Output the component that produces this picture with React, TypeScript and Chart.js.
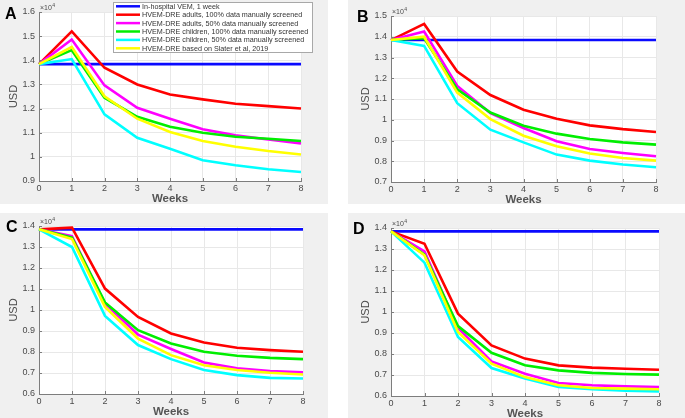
import React, { useEffect, useRef } from "react";
import { Chart, registerables } from "chart.js";
Chart.register(...registerables);

const weeks = ["0", "1", "2", "3", "4", "5", "6", "7", "8"];
const seriesNames = [
  "In-hospital VEM, 1 week",
  "HVEM-DRE adults, 100% data manually screened",
  "HVEM-DRE adults, 50% data manually screened",
  "HVEM-DRE children, 100% data manually screened",
  "HVEM-DRE children, 50% data manually screened",
  "HVEM-DRE based on Slater et al, 2019",
];
const seriesColors = ["#0a0aff", "#ff0000", "#ff00ff", "#00ee00", "#00ffff", "#ffff00"];

const inHospital = [13840, 13840, 13840, 13840, 13840, 13840, 13840, 13840, 13840];

const aAdults100 = [13840, 15200, 13690, 13000, 12580, 12380, 12200, 12100, 12000];
const aAdults50 = [13840, 14860, 12960, 12030, 11580, 11140, 10890, 10720, 10560];
const aChildren100 = [13840, 14420, 12450, 11660, 11250, 11000, 10830, 10750, 10660];
const aChildren50 = [13840, 14050, 11760, 10790, 10340, 9860, 9650, 9490, 9370];
const aSlater = [13840, 14550, 12510, 11580, 11030, 10660, 10420, 10240, 10100];

const bAdults100 = [13840, 14620, 12320, 11190, 10480, 10050, 9730, 9550, 9410];
const bAdults50 = [13840, 14250, 11630, 10320, 9600, 8960, 8590, 8400, 8240];
const bChildren100 = [13840, 13930, 11470, 10350, 9710, 9330, 9070, 8910, 8800];
const bChildren50 = [13840, 13560, 10800, 9520, 8910, 8320, 8030, 7840, 7710];
const bSlater = [13840, 14000, 11310, 10030, 9230, 8720, 8370, 8160, 8030];

const cAdults100 = [13840, 13920, 11020, 9670, 8880, 8450, 8200, 8090, 8010];
const cAdults50 = [13840, 13520, 10310, 8830, 8140, 7500, 7220, 7090, 7030];
const cChildren100 = [13840, 13450, 10360, 9040, 8410, 8010, 7820, 7720, 7660];
const cChildren50 = [13840, 13000, 9720, 8330, 7660, 7140, 6900, 6770, 6740];
const cSlater = [13840, 13380, 10150, 8640, 7850, 7370, 7140, 7010, 6930];

const dAdults100 = [13840, 13250, 9920, 8410, 7780, 7460, 7350, 7300, 7250];
const dAdults50 = [13840, 12890, 9240, 7650, 7060, 6620, 6510, 6460, 6430];
const dChildren100 = [13840, 12730, 9330, 8060, 7460, 7220, 7100, 7050, 7020];
const dChildren50 = [13840, 12350, 8810, 7330, 6830, 6430, 6320, 6250, 6220];
const dSlater = [13840, 12700, 9050, 7540, 6900, 6510, 6380, 6350, 6320];

const yRanges = [
  [9000, 16000],
  [7000, 15000],
  [6000, 14000],
  [6000, 14000],
];

const panelSeries = [
  [inHospital, aAdults100, aAdults50, aChildren100, aChildren50, aSlater],
  [inHospital, bAdults100, bAdults50, bChildren100, bChildren50, bSlater],
  [inHospital, cAdults100, cAdults50, cChildren100, cChildren50, cSlater],
  [inHospital, dAdults100, dAdults50, dChildren100, dChildren50, dSlater],
];
const panelLetters = ["A", "B", "C", "D"];

// layout (pixels)
const panels = [
  { x: 0, y: 0, w: 328, h: 204, l: 39, t: 12, r: 301, b: 181, lx: 5, ly: 19 },
  { x: 348, y: 0, w: 337, h: 204, l: 43, t: 16, r: 308, b: 182, lx: 9, ly: 22 },
  { x: 0, y: 213, w: 328, h: 205, l: 39, t: 13, r: 303, b: 181, lx: 6, ly: 19 },
  { x: 348, y: 213, w: 337, h: 205, l: 43, t: 15, r: 311, b: 183, lx: 5, ly: 21 },
];

const FONT = "'Liberation Sans', Arial, Helvetica, sans-serif";
const AXIS = "#7d7d7d";
const TEXT = "#4a4a4a";

const decorPlugin = {
  id: "decor",
  beforeDraw(chart: any) {
    const { ctx, chartArea: a, width, height } = chart;
    ctx.save();
    ctx.fillStyle = "#f0f0f0";
    ctx.fillRect(0, 0, width, height);
    ctx.fillStyle = "#ffffff";
    ctx.fillRect(a.left, a.top, a.right - a.left, a.bottom - a.top);
    ctx.restore();
  },
  afterDraw(chart: any, _args: any, opts: any) {
    const { ctx, chartArea: a } = chart;
    const xs = chart.scales.x;
    const ys = chart.scales.y;
    ctx.save();
    // inward ticks
    ctx.strokeStyle = AXIS;
    ctx.lineWidth = 1;
    ctx.beginPath();
    for (let i = 0; i < weeks.length; i++) {
      const px = Math.round(xs.getPixelForTick(i)) + 0.5;
      ctx.moveTo(px, a.bottom);
      ctx.lineTo(px, a.bottom - 3);
    }
    ys.ticks.forEach((t: any) => {
      const py = Math.round(ys.getPixelForValue(t.value)) + 0.5;
      ctx.moveTo(a.left, py);
      ctx.lineTo(a.left + 3, py);
    });
    ctx.stroke();

    // panel letter
    ctx.fillStyle = "#000";
    ctx.font = `bold 16px ${FONT}`;
    ctx.textAlign = "left";
    ctx.textBaseline = "alphabetic";
    ctx.fillText(opts.letter, opts.lx, opts.ly);

    // x10^4
    ctx.fillStyle = TEXT;
    ctx.font = `7px ${FONT}`;
    ctx.fillText("\u00d710", a.left + 1, a.top - 2);
    const w = ctx.measureText("\u00d710").width;
    ctx.font = `5px ${FONT}`;
    ctx.fillText("4", a.left + 1 + w + 0.5, a.top - 5);

    // axis titles
    ctx.font = `bold 11.5px ${FONT}`;
    ctx.fillStyle = "#555555";
    ctx.textAlign = "center";
    ctx.textBaseline = "middle";
    ctx.fillText("Weeks", (a.left + a.right) / 2, a.bottom + 18);
    ctx.save();
    ctx.translate(a.left - 25, (a.top + a.bottom) / 2);
    ctx.rotate(-Math.PI / 2);
    ctx.font = `11px ${FONT}`;
    ctx.fillStyle = TEXT;
    ctx.fillText("USD", 0, 0);
    ctx.restore();

    // legend
    if (opts.legend) {
      const bx = 113.5, by = 2.5, bw = 199, bh = 50;
      ctx.fillStyle = "#ffffff";
      ctx.fillRect(bx, by, bw, bh);
      ctx.strokeStyle = "#a8a8a8";
      ctx.lineWidth = 1;
      ctx.strokeRect(bx, by, bw, bh);
      ctx.font = `7.2px ${FONT}`;
      ctx.textAlign = "left";
      ctx.textBaseline = "middle";
      seriesNames.forEach((name, i) => {
        const ry = 6.3 + i * 8.4;
        ctx.strokeStyle = seriesColors[i];
        ctx.lineWidth = 2.5;
        ctx.beginPath();
        ctx.moveTo(116, ry);
        ctx.lineTo(140, ry);
        ctx.stroke();
        ctx.fillStyle = "#333";
        ctx.fillText(name, 142, ry + 0.5);
      });
    }
    ctx.restore();
  },
};

function Panel({ idx }: { idx: number }) {
  const ref = useRef<HTMLCanvasElement | null>(null);
  const p = panels[idx];
  useEffect(() => {
    if (!ref.current) return;
    const data = panelSeries[idx];
    const chart = new Chart(ref.current, {
      type: "line",
      data: {
        labels: weeks,
        datasets: data.map((vals, i) => ({
          label: seriesNames[i],
          data: vals,
          borderColor: seriesColors[i],
          backgroundColor: seriesColors[i],
          borderWidth: 2.6,
          pointRadius: 0,
          tension: 0,
          fill: false,
          order: data.length - i,
        })),
      },
      options: {
        responsive: false,
        animation: false,
        events: [],
        layout: { padding: { left: 0, top: p.t, right: p.w - p.r, bottom: 0 } },
        plugins: {
          legend: { display: false },
          tooltip: { enabled: false },
          decor: { letter: panelLetters[idx], lx: p.lx, ly: p.ly, legend: idx === 0 },
        } as any,
        scales: {
          x: {
            type: "category",
            offset: false,
            grid: { color: "#e8e8e8", drawTicks: false, offset: false },
            border: { display: true, color: AXIS, width: 1 },
            ticks: {
              color: TEXT,
              font: { family: FONT, size: 9 },
              padding: 2,
              maxRotation: 0,
              autoSkip: false,
            },
            afterFit: (s: any) => {
              s.height = p.h - p.b;
            },
          },
          y: {
            type: "linear",
            min: yRanges[idx][0],
            max: yRanges[idx][1],
            grid: { color: "#e8e8e8", drawTicks: false },
            border: { display: true, color: AXIS, width: 1 },
            ticks: {
              stepSize: 1000,
              color: TEXT,
              font: { family: FONT, size: 9 },
              padding: 4,
              callback: (v: any) => String(Number((Number(v) / 10000).toFixed(1))),
            },
            afterFit: (s: any) => {
              s.width = p.l;
            },
          },
        },
      },
      plugins: [decorPlugin as any],
    });
    return () => chart.destroy();
  }, [idx]);
  return (
    <canvas
      ref={ref}
      width={p.w}
      height={p.h}
      style={{ position: "absolute", left: p.x, top: p.y, width: p.w, height: p.h }}
    />
  );
}

export default function App() {
  return (
    <div
      style={{
        position: "absolute",
        left: 0,
        top: 0,
        width: 685,
        height: 418,
        background: "#ffffff",
        overflow: "hidden",
      }}
    >
      {[0, 1, 2, 3].map((i) => (
        <Panel key={i} idx={i} />
      ))}
    </div>
  );
}
